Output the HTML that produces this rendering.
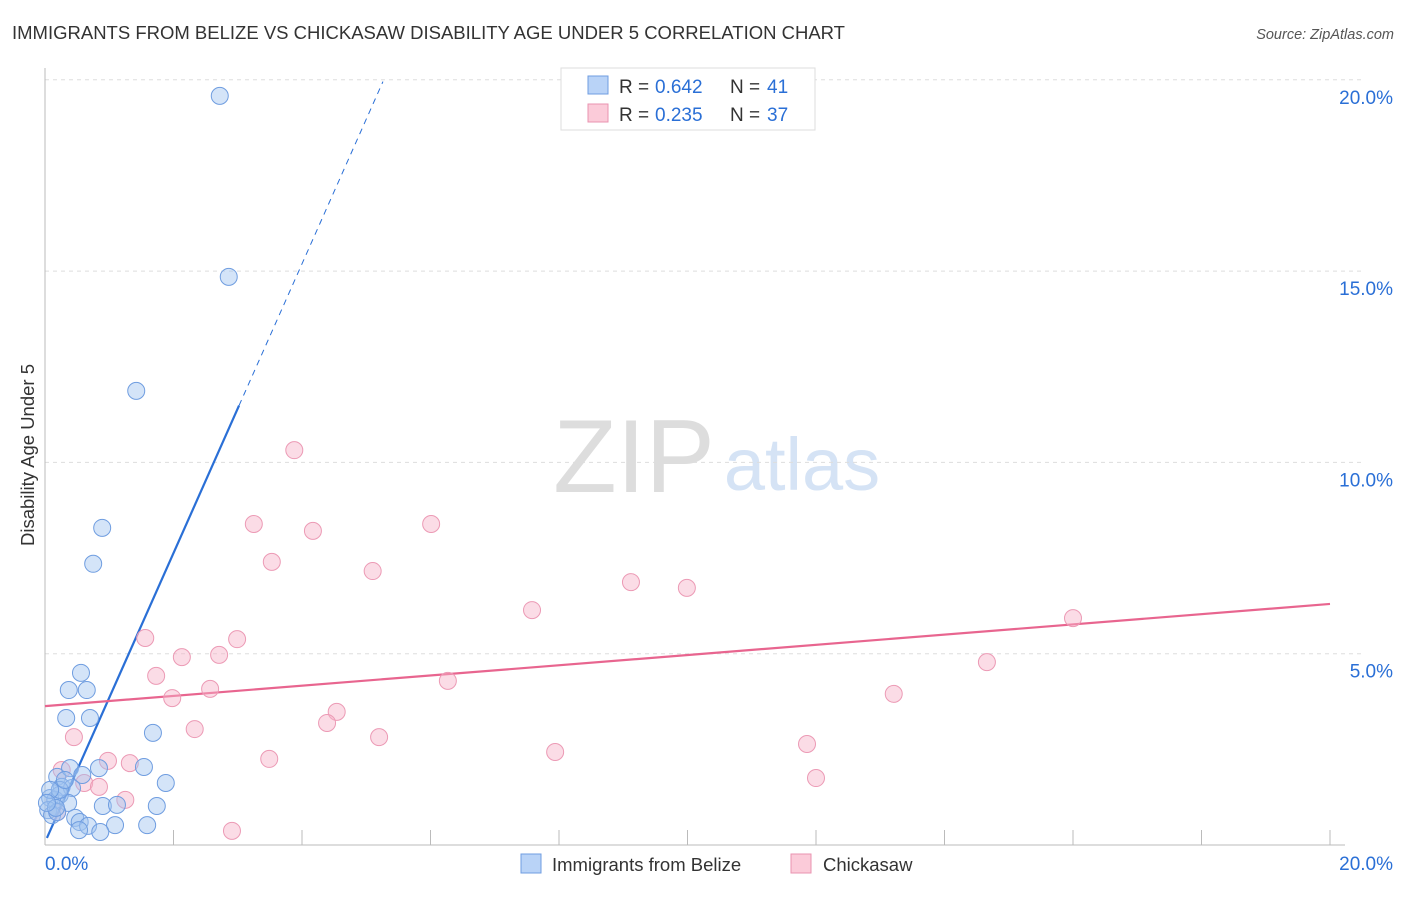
<!DOCTYPE html>
<html><head><meta charset="utf-8"><style>
body{margin:0;background:#fff;font-family:"Liberation Sans",sans-serif}
svg text{font-family:"Liberation Sans",sans-serif}
</style></head><body>
<svg id="chart" width="1406" height="892" xmlns="http://www.w3.org/2000/svg">
<text x="12" y="39" font-size="18.5" fill="#333">IMMIGRANTS FROM BELIZE VS CHICKASAW DISABILITY AGE UNDER 5 CORRELATION CHART</text>
<text x="1394" y="39" font-size="14.5" fill="#555" font-style="italic" text-anchor="end">Source: ZipAtlas.com</text>
<text transform="translate(34,455) rotate(-90)" font-size="18.5" fill="#333" text-anchor="middle">Disability Age Under 5</text>
<g>
<text x="634" y="492" font-size="104" fill="#ddd" font-family="Liberation Serif" text-anchor="middle">ZIP</text>
<text x="802" y="490" font-size="74" fill="#d5e3f5" text-anchor="middle">atlas</text>
</g>
<g id="grid"></g><g id="axes"></g><g id="lines"></g><g id="pts"></g>
<g>
<rect x="561" y="68" width="254" height="62" fill="#fff" stroke="#ddd"/>
<rect x="588" y="76" width="20" height="18" fill="#b9d3f7" stroke="#6f9de0"/>
<rect x="588" y="104" width="20" height="18" fill="#fbcbd9" stroke="#ea93b0"/>
<text x="619" y="93" font-size="19" fill="#333">R =</text>
<text x="655" y="93" font-size="19" fill="#2a6fd6">0.642</text>
<text x="730" y="93" font-size="19" fill="#333">N =</text>
<text x="767" y="93" font-size="19" fill="#2a6fd6">41</text>
<text x="619" y="121" font-size="19" fill="#333">R =</text>
<text x="655" y="121" font-size="19" fill="#2a6fd6">0.235</text>
<text x="730" y="121" font-size="19" fill="#333">N =</text>
<text x="767" y="121" font-size="19" fill="#2a6fd6">37</text>
</g>
<g>
<rect x="521" y="854" width="20" height="19" fill="#b9d3f7" stroke="#6f9de0"/>
<text x="552" y="871" font-size="18.5" fill="#333">Immigrants from Belize</text>
<rect x="791" y="854" width="20" height="19" fill="#fbcbd9" stroke="#ea93b0"/>
<text x="823" y="871" font-size="18.5" fill="#333">Chickasaw</text>
</g>
</svg>
<script>
const belizeX=[2.72,2.86,1.42,0.89,0.75,0.56,0.37,0.65,0.33,0.70,1.68,0.84,1.54,1.88,0.19,0.39,0.58,0.26,0.42,0.08,0.16,0.23,0.36,0.05,0.11,0.19,0.90,1.12,1.74,0.47,0.54,0.67,1.09,1.59,0.53,0.86,0.23,0.31,0.08,0.17,0.03];
const belizeY=[19.58,14.85,11.87,8.29,7.35,4.50,4.05,4.05,3.32,3.32,2.93,2.01,2.04,1.62,1.78,2.01,1.83,1.52,1.49,1.23,1.18,1.31,1.10,0.91,0.78,0.86,1.02,1.05,1.02,0.71,0.60,0.50,0.52,0.52,0.39,0.34,1.44,1.70,1.44,0.97,1.10];
const chickX=[3.88,3.25,4.17,6.01,3.53,5.10,9.12,9.99,7.58,16.00,1.56,2.99,2.13,2.71,1.73,2.57,1.98,6.27,14.66,13.21,4.54,4.39,2.33,5.20,0.45,7.94,11.86,3.49,0.98,1.32,0.26,0.61,0.84,12.00,1.25,0.19,2.91];
const chickY=[10.32,8.39,8.21,8.39,7.40,7.16,6.87,6.72,6.14,5.93,5.41,5.38,4.91,4.97,4.42,4.08,3.84,4.29,4.78,3.95,3.48,3.19,3.03,2.82,2.82,2.43,2.64,2.25,2.20,2.14,1.96,1.62,1.52,1.75,1.18,0.86,0.37];
const yTicks=[5,10,15,20];
const yTickLabels=["5.0%","10.0%","15.0%","20.0%"];
const xTicks=[0,2,4,6,8,10,12,14,16,18,20];
const belizeTrend=[0.07,3.78]; // intercept, slope
const chickTrend=[3.63,0.1335];
const NS="http://www.w3.org/2000/svg";
const sx=v=>45+v/20*1285, sy=v=>845-v/5*191.3;
function mk(t,a,p){const e=document.createElementNS(NS,t);for(const k in a)e.setAttribute(k,a[k]);p.appendChild(e);return e;}
const grid=document.getElementById('grid'),axes=document.getElementById('axes'),lines=document.getElementById('lines'),pts=document.getElementById('pts');
yTicks.forEach((v,i)=>{
 const l=mk('line',{x1:45,x2:1365,y1:sy(v),y2:sy(v),stroke:'#ddd','stroke-dasharray':'4,4'},grid);
 
 
 const t=mk('text',{x:1393,y:sy(v)+24,'font-size':19,fill:'#2a6fd6','text-anchor':'end'},axes);
 t.textContent=yTickLabels[i];
 
 
});
const ax=mk('line',{x1:45,x2:45,y1:68,y2:845,stroke:'#bbb'},axes);


const bx=mk('line',{x1:45,x2:1345,y1:845,y2:845,stroke:'#bbb'},axes);


xTicks.forEach(v=>{
 const t=mk('line',{x1:sx(v),x2:sx(v),y1:830,y2:845,stroke:'#bbb'},axes);
 
 
});
const xl0=mk('text',{x:45,y:870,'font-size':19,fill:'#2a6fd6'},axes);xl0.textContent='0.0%';


const xl1=mk('text',{x:1393,y:870,'font-size':19,fill:'#2a6fd6','text-anchor':'end'},axes);xl1.textContent='20.0%';


const bf=x=>belizeTrend[0]+belizeTrend[1]*x;
let l1=mk('line',{x1:sx(0.03),y1:sy(bf(0.03)),x2:sx(3.02),y2:sy(bf(3.02)),stroke:'#2a6fd6','stroke-width':2.2},lines);


let l2=mk('line',{x1:sx(3.02),y1:sy(bf(3.02)),x2:sx(5.26),y2:sy(bf(5.26)),stroke:'#2a6fd6','stroke-width':1,'stroke-dasharray':'6,5'},lines);


const cf=x=>chickTrend[0]+chickTrend[1]*x;
let l3=mk('line',{x1:sx(0),y1:sy(cf(0)),x2:sx(20),y2:sy(cf(20)),stroke:'#e8658f','stroke-width':2.2},lines);


chickX.forEach((x,i)=>{
 const c=mk('circle',{cx:sx(x),cy:sy(chickY[i]),r:8.5,fill:'rgba(247,178,200,0.45)',stroke:'#ec9ab5','stroke-width':1},pts);
 
 
});
belizeX.forEach((x,i)=>{
 const c=mk('circle',{cx:sx(x),cy:sy(belizeY[i]),r:8.5,fill:'rgba(160,195,240,0.45)',stroke:'#6f9de0','stroke-width':1},pts);
 
 
});
</script>
</body></html>
